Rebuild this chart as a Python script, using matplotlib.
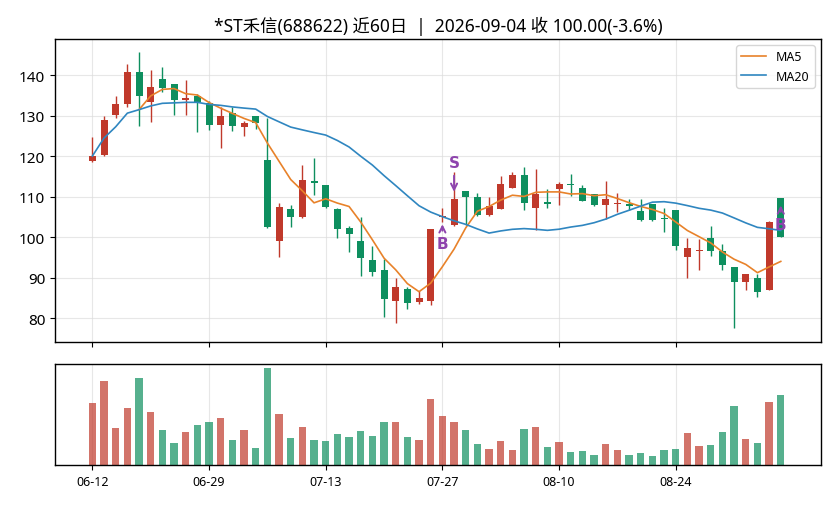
import numpy as np
import pandas as pd
import matplotlib
matplotlib.use("Agg")
import matplotlib.pyplot as plt

plt.rcParams['font.family'] = ['Noto Sans', 'Noto Sans CJK SC', 'DejaVu Sans']
plt.rcParams['axes.linewidth'] = 1.0

# trading days shown on the x axis (every 10th day gets a label)
tick_labels = ['06-12', '06-29', '07-13', '07-27', '08-10', '08-24']

opens = [118.9, 120.2, 130.1, 132.8, 140.7, 133.3, 139.0, 137.8, 133.8, 134.9,
         133.0, 127.7, 130.6, 127.2, 130.0, 119.0, 99.1, 106.9, 105.0, 113.8,
         112.8, 106.9, 102.2, 99.0, 94.3, 91.9, 84.3, 87.2, 84.0, 84.2,
         104.9, 103.0, 111.3, 110.0, 105.5, 106.9, 112.1, 115.3, 107.2, 108.6,
         111.9, 113.0, 112.0, 110.6, 108.0, 108.1, 108.2, 106.4, 108.1, 104.6,
         106.7, 95.2, 96.5, 99.9, 96.5, 92.5, 89.0, 90.0, 87.0, 109.6]
highs = [124.6, 130.0, 134.9, 142.7, 145.6, 141.3, 142.1, 137.8, 138.7, 135.3,
         133.7, 132.0, 132.0, 128.7, 130.0, 129.3, 108.4, 108.0, 117.8, 119.5,
         112.8, 107.3, 102.8, 104.9, 97.9, 94.6, 90.0, 87.7, 86.6, 102.0,
         107.3, 116.0, 111.3, 110.9, 110.0, 115.1, 116.0, 117.4, 116.8, 111.9,
         113.5, 115.7, 112.9, 110.6, 113.9, 110.9, 109.5, 109.5, 108.1, 107.1,
         106.7, 99.9, 99.5, 102.7, 98.2, 92.5, 90.8, 90.9, 103.9, 109.6]
lows = [118.5, 120.0, 129.3, 132.0, 127.5, 128.5, 135.7, 130.1, 130.1, 126.0,
        126.4, 122.1, 126.1, 125.0, 126.7, 102.3, 95.0, 102.4, 104.7, 110.5,
        107.1, 99.7, 96.2, 90.3, 90.3, 80.2, 78.7, 82.2, 83.5, 83.2,
        103.8, 102.8, 103.0, 105.1, 105.3, 106.9, 112.1, 106.8, 101.8, 107.1,
        108.0, 110.2, 108.8, 107.8, 104.4, 106.1, 106.7, 104.0, 104.0, 101.2,
        96.8, 89.8, 91.8, 95.4, 91.9, 77.5, 87.0, 85.1, 87.0, 100.0]
closes = [120.0, 128.9, 132.8, 140.7, 134.9, 137.0, 136.9, 133.9, 134.3, 133.3,
          127.7, 129.9, 127.5, 128.1, 128.1, 102.5, 107.4, 105.0, 114.1, 113.3,
          107.5, 102.1, 100.8, 94.9, 91.4, 84.8, 87.7, 83.8, 84.9, 102.0,
          105.1, 109.4, 110.0, 105.5, 107.7, 113.1, 115.4, 108.5, 110.6, 108.2,
          113.1, 112.8, 109.0, 108.0, 109.4, 108.4, 107.7, 104.3, 104.3, 104.4,
          97.9, 97.2, 96.7, 96.6, 93.2, 89.0, 90.8, 86.5, 103.7, 100.0]
# volume (relative units, no scale shown on the chart)
volumes = [18.6, 25.2, 11.1, 17.1, 26.1, 15.9, 10.5, 6.6, 9.9, 12.0,
           12.9, 14.1, 7.5, 10.5, 5.1, 29.1, 15.3, 8.1, 11.4, 7.5,
           7.2, 9.3, 8.4, 10.2, 8.7, 12.9, 12.9, 8.4, 7.5, 19.8,
           14.7, 12.9, 10.5, 6.3, 4.8, 7.2, 4.5, 10.8, 11.4, 5.4,
           6.9, 3.9, 4.2, 3.0, 6.3, 4.5, 3.0, 3.6, 2.7, 4.5,
           4.8, 9.6, 5.7, 6.0, 9.9, 17.7, 7.8, 6.6, 18.9, 21.0]

# buy / sell signals
signal_days = [30, 31, 59]
signal_kinds = ['B', 'S', 'B']

df = pd.DataFrame({'open': opens, 'high': highs, 'low': lows,
                   'close': closes, 'vol': volumes})
df['ma5'] = df['close'].rolling(5).mean()
df['ma20'] = df['close'].rolling(20, min_periods=1).mean()
x = np.arange(len(df))

up_c = '#c0392b'
down_c = '#0e8f5f'
colors = [up_c if c >= o else down_c for o, c in zip(df['open'], df['close'])]

fig = plt.figure(figsize=(8.36, 5.06), dpi=100)
ax = fig.add_axes([0.0658, 0.3221, 0.9163, 0.5988])
ax2 = fig.add_axes([0.0658, 0.0791, 0.9163, 0.1996], sharex=ax)

# candles
ax.vlines(x, df['low'], df['high'], colors=colors, lw=1, zorder=2)
body = np.maximum((df['close'] - df['open']).abs(), 0.35)
ax.bar(x, body, bottom=np.minimum(df['open'], df['close']), width=0.6,
       color=colors, zorder=3)

ax.plot(x, df['ma5'], color='#e8822a', lw=1.2, label='MA5', zorder=4)
ax.plot(x, df['ma20'], color='#2f86c0', lw=1.2, label='MA20', zorder=4)

for d, k in zip(signal_days, signal_kinds):
    if k == 'B':
        y0 = df['open'][d] * 0.99
        off = -16
    else:
        y0 = df['close'][d] * 1.01
        off = 23
    ax.annotate(k, xy=(d, y0), xytext=(0, off), textcoords='offset points',
                ha='center', va='center', color='#8e44ad', fontsize=11,
                fontweight='bold', family=['DejaVu Sans'], zorder=6,
                arrowprops=dict(arrowstyle='->', color='#8e44ad', lw=1.4))

ax.set_xlim(-3.2, 62.45)
ax.set_ylim(74.1, 148.9)
ax.set_yticks([80, 90, 100, 110, 120, 130, 140])
ax.grid(True, color='#dddddd', lw=0.8, alpha=0.7)
ax.set_axisbelow(True)
ax.tick_params(labelbottom=False, labelsize=11)
ax.legend(loc='upper right', fontsize=9)
ax.set_title('*ST禾信(688622) 近60日  |  2026-09-04 收 100.00(-3.6%)',
             fontsize=12.5)

# volume
ax2.bar(x, df['vol'], width=0.62, color=colors, alpha=0.7)
ax2.set_ylim(0, max(volumes) * 1.04)
ax2.set_yticks([])
ax2.set_xticks(np.arange(0, 60, 10))
ax2.set_xticklabels(tick_labels)
ax2.tick_params(labelsize=9)
ax2.grid(True, axis='x', color='#dddddd', lw=0.8, alpha=0.7)
ax2.set_axisbelow(True)

plt.savefig('out.png', dpi=100)
